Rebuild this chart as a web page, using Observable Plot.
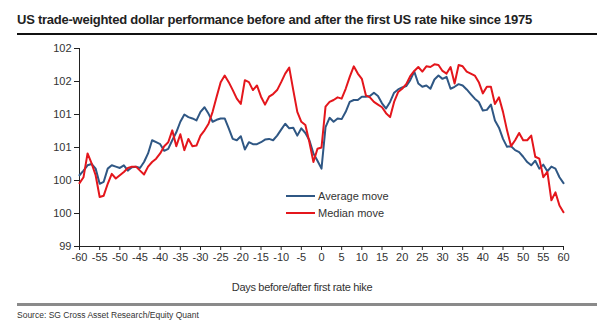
<!DOCTYPE html>
<html>
<head>
<meta charset="utf-8">
<script src="https://cdn.jsdelivr.net/npm/d3@7"></script>
<script src="https://cdn.jsdelivr.net/npm/@observablehq/plot@0.6"></script>
<style>
  html, body { margin: 0; padding: 0; background: #fff; }
  #wrap { position: relative; width: 600px; height: 321px; overflow: hidden; font-family: "Liberation Sans", Arial, sans-serif; color: #333; }
  #wrap svg { position: absolute; left: 0; top: 0; }
  .abs { position: absolute; white-space: nowrap; }
  #title { left: 17px; top: 12px; font-size: 13px; font-weight: bold; color: #222; letter-spacing: -0.25px; }
  #titleRule { left: 17px; top: 33px; width: 580px; height: 2px; background: #111; }
  #xlabel { left: 302px; top: 281px; transform: translateX(-50%); font-size: 11px; letter-spacing: -0.3px; color: #333; }
  #srcRule { left: 17px; top: 303px; width: 580px; height: 3px; background: #8a8a8a; }
  #source { left: 17px; top: 310px; font-size: 8.5px; color: #333; }
  .leg { position: absolute; left: 286px; font-size: 11px; color: #333; display: flex; align-items: center; }
  .leg span.sw { display: inline-block; width: 29px; height: 2px; margin-right: 3px; }
</style>
</head>
<body>
<div id="wrap">
  <div class="abs" id="title">US trade-weighted dollar performance before and after the first US rate hike since 1975</div>
  <div class="abs" id="titleRule"></div>
  <div class="abs" id="xlabel">Days before/after first rate hike</div>
  <div class="abs" id="srcRule"></div>
  <div class="abs" id="source">Source: SG Cross Asset Research/Equity Quant</div>
</div>
<script>
const days = d3.range(-60, 61);

const averageMove = [
  100.08, 100.15, 100.23, 100.25, 100.18, 99.95, 99.98, 100.18, 100.23, 100.21,
  100.19, 100.23, 100.15, 100.2, 100.21, 100.19, 100.28, 100.41, 100.61, 100.58,
  100.55, 100.45, 100.48, 100.61, 100.73, 100.89, 101.0, 100.96, 100.94, 100.91,
  101.04, 101.11, 101.01, 100.89, 100.92, 100.94, 100.94, 100.79, 100.63, 100.61,
  100.67, 100.47, 100.58, 100.55, 100.55, 100.58, 100.62, 100.63, 100.61, 100.68,
  100.77, 100.86, 100.79, 100.8, 100.68, 100.79, 100.72, 100.61, 100.41, 100.3,
  100.18,
  100.81, 100.95, 100.89, 100.94, 100.93, 101.04, 101.19, 101.22, 101.22, 101.27,
  101.27, 101.28, 101.33, 101.28, 101.17, 101.09, 101.19, 101.33, 101.38, 101.41,
  101.43, 101.52, 101.65, 101.47, 101.42, 101.44, 101.39, 101.53, 101.59, 101.54,
  101.57, 101.39, 101.42, 101.46, 101.44, 101.38, 101.31, 101.24, 101.19, 101.06,
  101.07, 101.15, 100.91, 100.8, 100.63, 100.51, 100.52, 100.46, 100.43, 100.36,
  100.28, 100.23, 100.3, 100.18, 100.24, 100.14, 100.21, 100.18, 100.05, 99.96
];

const medianMove = [
  99.96, 100.05, 100.41, 100.26, 100.08, 99.75, 99.77, 99.95, 100.1, 100.03,
  100.08, 100.13, 100.19, 100.21, 100.21, 100.15, 100.09, 100.21, 100.28, 100.33,
  100.41, 100.52, 100.58, 100.76, 100.52, 100.7, 100.46, 100.63, 100.52, 100.53,
  100.68, 100.76, 100.86, 101.04, 101.27, 101.49, 101.59, 101.49, 101.37, 101.24,
  101.16, 101.52, 101.49, 101.37, 101.44, 101.27, 101.15, 101.27, 101.31, 101.37,
  101.49, 101.62, 101.71, 101.37, 101.04, 100.89, 100.84, 100.58, 100.28, 100.48,
  100.5,
  101.12, 101.19, 101.22, 101.26, 101.24, 101.39, 101.57, 101.73, 101.62, 101.54,
  101.29, 101.26, 101.19, 101.15, 101.11, 101.02, 100.96, 101.19, 101.34, 101.39,
  101.46, 101.58, 101.66, 101.72, 101.65, 101.73, 101.72, 101.76, 101.75, 101.66,
  101.62, 101.72, 101.47, 101.75, 101.73, 101.65, 101.62, 101.59, 101.49, 101.32,
  101.42, 101.42, 101.16, 101.26, 101.04, 100.76, 100.52, 100.61, 100.72, 100.61,
  100.61, 100.68, 100.36, 100.33, 100.05, 100.13, 99.7, 99.82, 99.62, 99.52
];

const seriesNames = ["Average move", "Median move"];
const seriesColors = ["#2f5784", "#e4161c"];
const xTicks = d3.range(-60, 61, 5);
const yTicks = d3.range(99, 102.01, 0.5);
const yDomain = [99, 102];

const rows = [];
days.forEach((d, i) => {
  rows.push({day: d, value: averageMove[i], series: seriesNames[0]});
  rows.push({day: d, value: medianMove[i], series: seriesNames[1]});
});

const chart = Plot.plot({
  width: 600,
  height: 321,
  marginTop: 48,
  marginBottom: 75,
  marginLeft: 79,
  marginRight: 37,
  style: {fontFamily: "'Liberation Sans', Arial, sans-serif", fontSize: "11px", color: "#333", background: "transparent"},
  x: {domain: [-60, 60]},
  y: {domain: yDomain},
  color: {domain: seriesNames, range: seriesColors},
  marks: [
    Plot.axisY({ticks: yTicks, tickSize: 5, tickPadding: 3, tickFormat: d => String(Math.round(d)), label: null, stroke: "#222", fill: "#333"}),
    Plot.axisX({ticks: xTicks, tickSize: 4, tickPadding: 3, tickFormat: d => String(d), label: null, stroke: "#222", fill: "#333"}),
    Plot.ruleX([-60], {stroke: "#222"}),
    Plot.ruleY([99], {stroke: "#222"}),
    Plot.line(rows, {x: "day", y: "value", z: "series", stroke: "series", strokeWidth: 2, curve: "linear"})
  ]
});

const wrap = document.getElementById("wrap");
wrap.insertBefore(chart, wrap.firstChild);

seriesNames.forEach((name, i) => {
  const el = document.createElement("div");
  el.className = "leg";
  el.style.top = (190 + i * 17) + "px";
  el.innerHTML = `<span class="sw" style="background:${seriesColors[i]}"></span>${name}`;
  wrap.appendChild(el);
});
</script>
</body>
</html>
